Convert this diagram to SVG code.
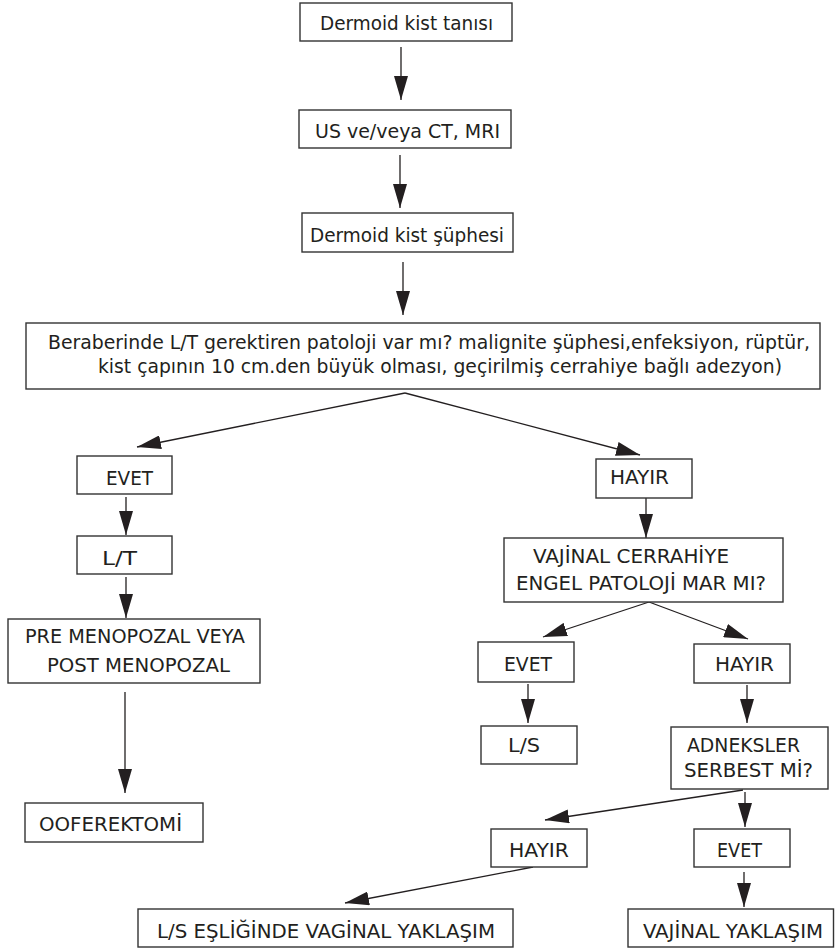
<svg xmlns="http://www.w3.org/2000/svg" width="835" height="949" viewBox="0 0 835 949">
<style>
rect{fill:#fff;stroke:#333;stroke-width:1.4}
text{font-family:"DejaVu Sans Condensed","DejaVu Sans",sans-serif;font-size:20px;fill:#231f20}
.c line{stroke:#231f20;stroke-width:1.3;marker-end:url(#ah)}
</style>
<defs>
<marker id="ah" markerUnits="userSpaceOnUse" markerWidth="24" markerHeight="14" refX="24" refY="7" orient="auto"><path d="M0,0 L24,7 L0,14 z" fill="#231f20"/></marker>
</defs>
<rect x="0" y="0" width="835" height="949" style="stroke:none"/>
<g class="c" id="connectors">
<line x1="401" y1="47" x2="401" y2="100"/>
<line x1="400" y1="155" x2="400" y2="208"/>
<line x1="403" y1="262" x2="403" y2="315"/>
<line x1="405" y1="393" x2="137" y2="447"/>
<line x1="405" y1="393" x2="640" y2="455"/>
<line x1="126" y1="497" x2="126" y2="535"/>
<line x1="126" y1="577" x2="126" y2="618"/>
<line x1="125" y1="692" x2="125" y2="793"/>
<line x1="646" y1="498" x2="646" y2="538"/>
<line x1="649" y1="602" x2="543" y2="637"/>
<line x1="649" y1="602" x2="748" y2="639"/>
<line x1="528" y1="684" x2="528" y2="723"/>
<line x1="747" y1="685" x2="747" y2="723"/>
<line x1="743" y1="790" x2="545" y2="820"/>
<line x1="745" y1="792" x2="745" y2="827"/>
<line x1="533" y1="867" x2="345" y2="903"/>
<line x1="744" y1="872" x2="744" y2="907"/>
</g>
<g id="n1"><rect x="300" y="3" width="212" height="38"/><text x="320" y="30" textLength="173" lengthAdjust="spacingAndGlyphs">Dermoid kist tanısı</text></g>
<g id="n2"><rect x="299" y="110" width="212" height="38"/><text x="315" y="138" textLength="185" lengthAdjust="spacingAndGlyphs">US ve/veya CT, MRI</text></g>
<g id="n3"><rect x="302" y="213" width="211" height="39"/><text x="310" y="242" textLength="194" lengthAdjust="spacingAndGlyphs">Dermoid kist şüphesi</text></g>
<g id="n4"><rect x="26" y="323" width="794" height="66"/><text x="48" y="349" textLength="762" lengthAdjust="spacingAndGlyphs">Beraberinde L/T gerektiren patoloji var mı? malignite şüphesi,enfeksiyon, rüptür,</text><text x="98" y="373" textLength="684" lengthAdjust="spacingAndGlyphs">kist çapının 10 cm.den büyük olması, geçirilmiş cerrahiye bağlı adezyon)</text></g>
<g id="n5"><rect x="77" y="456" width="95" height="38"/><text x="106" y="485" textLength="47" lengthAdjust="spacingAndGlyphs">EVET</text></g>
<g id="n6"><rect x="77" y="536" width="95" height="38"/><text x="102" y="565" textLength="35" lengthAdjust="spacingAndGlyphs">L/T</text></g>
<g id="n7"><rect x="8" y="619" width="252" height="64"/><text x="25" y="643" textLength="220" lengthAdjust="spacingAndGlyphs">PRE MENOPOZAL VEYA</text><text x="47" y="672" textLength="183" lengthAdjust="spacingAndGlyphs">POST MENOPOZAL</text></g>
<g id="n8"><rect x="25" y="803" width="178" height="39"/><text x="39" y="831" textLength="143" lengthAdjust="spacingAndGlyphs">OOFEREKTOMİ</text></g>
<g id="n9"><rect x="596" y="459" width="96" height="39"/><text x="610" y="484" textLength="59" lengthAdjust="spacingAndGlyphs">HAYIR</text></g>
<g id="n10"><rect x="504" y="538" width="279" height="64"/><text x="533" y="563" textLength="196" lengthAdjust="spacingAndGlyphs">VAJİNAL CERRAHİYE</text><text x="516" y="590" textLength="250" lengthAdjust="spacingAndGlyphs">ENGEL PATOLOJİ MAR MI?</text></g>
<g id="n11"><rect x="478" y="642" width="96" height="40"/><text x="504" y="671" textLength="48" lengthAdjust="spacingAndGlyphs">EVET</text></g>
<g id="n12"><rect x="694" y="644" width="96" height="39"/><text x="715" y="671" textLength="59" lengthAdjust="spacingAndGlyphs">HAYIR</text></g>
<g id="n13"><rect x="481" y="726" width="96" height="38"/><text x="508" y="752" textLength="32" lengthAdjust="spacingAndGlyphs">L/S</text></g>
<g id="n14"><rect x="671" y="727" width="157" height="62"/><text x="687" y="752" textLength="113" lengthAdjust="spacingAndGlyphs">ADNEKSLER</text><text x="684" y="777" textLength="129" lengthAdjust="spacingAndGlyphs">SERBEST Mİ?</text></g>
<g id="n15"><rect x="491" y="829" width="96" height="38"/><text x="509" y="857" textLength="60" lengthAdjust="spacingAndGlyphs">HAYIR</text></g>
<g id="n16"><rect x="694" y="829" width="96" height="38"/><text x="717" y="857" textLength="45" lengthAdjust="spacingAndGlyphs">EVET</text></g>
<g id="n17"><rect x="138" y="909" width="375" height="38"/><text x="157" y="938" textLength="338" lengthAdjust="spacingAndGlyphs">L/S EŞLİĞİNDE VAGİNAL YAKLAŞIM</text></g>
<g id="n18"><rect x="628" y="909" width="205.5" height="38"/><text x="643" y="938" textLength="180" lengthAdjust="spacingAndGlyphs">VAJİNAL YAKLAŞIM</text></g>
</svg>
